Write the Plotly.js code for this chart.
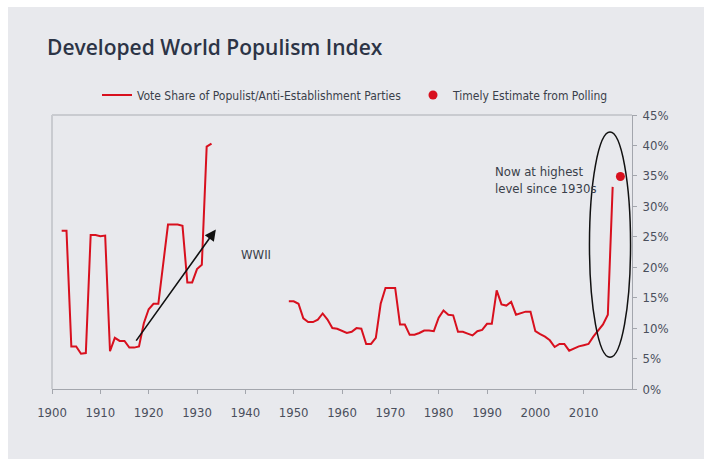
<!DOCTYPE html>
<html>
<head>
<meta charset="utf-8">
<script src="https://cdn.plot.ly/plotly-3.0.1.min.js"></script>
<style>
html,body{margin:0;padding:0;background:#ffffff;}
#chart{position:absolute;left:8px;top:7px;width:696px;height:452px;}
</style>
</head>
<body>
<div id="chart"></div>
<script>
// Vote share of populist / anti-establishment parties (%), pre-war segment
var yearsPreWar = [1902,1903,1904,1905,1906,1907,1908,1909,1910,1911,1912,1913,1914,1915,1916,1917,1918,1919,1920,1921,1922,1923,1924,1925,1926,1927,1928,1929,1930,1931,1932,1933];
var sharePreWar = [26.0,26.0,7.0,7.0,5.8,5.9,25.3,25.3,25.1,25.2,6.2,8.4,7.9,7.9,6.8,6.8,7.0,10.8,13.1,14.0,14.0,20.5,27.0,27.0,27.0,26.8,17.5,17.5,19.7,20.4,39.8,40.3];
// post-war segment
var yearsPostWar = [1949,1950,1951,1952,1953,1954,1955,1956,1957,1958,1959,1960,1961,1962,1963,1964,1965,1966,1967,1968,1969,1970,1971,1972,1973,1974,1975,1976,1977,1978,1979,1980,1981,1982,1983,1984,1985,1986,1987,1988,1989,1990,1991,1992,1993,1994,1995,1996,1997,1998,1999,2000,2001,2002,2003,2004,2005,2006,2007,2008,2009,2010,2011,2012,2013,2014,2015,2016];
var sharePostWar = [14.4,14.4,14.0,11.6,11.0,11.0,11.4,12.4,11.4,10.0,9.9,9.6,9.2,9.4,10.0,9.9,7.4,7.4,8.4,14.0,16.6,16.6,16.6,10.6,10.6,8.9,8.9,9.2,9.6,9.6,9.5,11.7,12.9,12.2,12.1,9.4,9.4,9.1,8.8,9.5,9.7,10.7,10.7,16.2,13.9,13.7,14.3,12.2,12.4,12.7,12.7,9.5,9.0,8.6,8.0,6.9,7.4,7.4,6.3,6.7,7.0,7.2,7.4,8.6,9.6,10.6,12.2,33.2];
// timely estimate from polling
var pollYear = [2017.6];
var pollShare = [34.9];
var xTickVals = [1900,1910,1920,1930,1940,1950,1960,1970,1980,1990,2000,2010];
var xTickText = ['1900','1910','1920','1930','1940','1950','1960','1970','1980','1990','2000','2010'];
var yTickVals = [0,5,10,15,20,25,30,35,40,45];
var yTickText = ['0%','5%','10%','15%','20%','25%','30%','35%','40%','45%'];
var arrowFrom = [1917.2, 7.7];
var arrowTo = [1933.9, 26.2];
var ellipseX = [2011.2, 2019.7];
var ellipseY = [5.2, 42.2];

var RED = '#d8101e';
var NARROW = '"Liberation Sans Narrow", "DejaVu Sans Condensed", "Roboto", sans-serif';

var traces = [
  {x: yearsPreWar, y: sharePreWar, type: 'scatter', mode: 'lines',
   name: 'Vote Share of Populist/Anti-Establishment Parties',
   line: {color: RED, width: 2}, legend: 'legend', legendgroup: 'v'},
  {x: yearsPostWar, y: sharePostWar, type: 'scatter', mode: 'lines',
   name: 'Vote Share of Populist/Anti-Establishment Parties', showlegend: false,
   line: {color: RED, width: 2}, legendgroup: 'v'},
  {x: pollYear, y: pollShare, type: 'scatter', mode: 'markers',
   name: 'Timely Estimate from Polling', legend: 'legend2',
   marker: {color: RED, size: 9}}
];

var W = 696, H = 452;
var layout = {
  width: W, height: H,
  paper_bgcolor: '#e8e9ed', plot_bgcolor: '#e8e9ed',
  margin: {l: 44, r: 72, t: 108, b: 70, pad: 0},
  font: {family: NARROW, color: '#4a4f5c', size: 13},
  title: {text: 'Developed World Populism Index', x: 39/W, xanchor: 'left', xref: 'container',
          y: 1 - 41/H, yanchor: 'middle', yref: 'container',
          font: {family: '"Open Sans", sans-serif', size: 21, weight: 600, color: '#2c3446'}},
  xaxis: {range: [1900, 2020], tickvals: xTickVals, ticktext: xTickText,
          showgrid: false, zeroline: false, showline: true, linecolor: '#a3a6ad', linewidth: 1,
          ticks: 'outside', ticklen: 4, tickcolor: '#a3a6ad', tickfont: {size: 13, color: '#4a4f5c'},
          ticklabelstandoff: 7},
  yaxis: {range: [0, 45], tickvals: yTickVals, ticktext: yTickText, side: 'right',
          showgrid: false, zeroline: false, showline: true, linecolor: '#a3a6ad', linewidth: 1,
          ticks: 'outside', ticklen: 4, tickcolor: '#a3a6ad', tickfont: {size: 13, color: '#4a4f5c'},
          ticklabelstandoff: 3},
  showlegend: true,
  legend: {orientation: 'h', xref: 'container', yref: 'container', x: 89/W, y: 1 - 88/H,
           xanchor: 'left', yanchor: 'middle', bgcolor: 'rgba(0,0,0,0)',
           font: {size: 12, color: '#3a3f4a'}},
  legend2: {orientation: 'h', xref: 'container', yref: 'container', x: 405/W, y: 1 - 88/H,
           xanchor: 'left', yanchor: 'middle', bgcolor: 'rgba(0,0,0,0)',
           font: {size: 12, color: '#3a3f4a'}},
  shapes: [
    {type: 'line', xref: 'paper', yref: 'paper', x0: 0, x1: 1, y0: 1, y1: 1,
     line: {color: '#c9cbd0', width: 2}},
    {type: 'line', xref: 'paper', yref: 'paper', x0: 0, x1: 0, y0: 0, y1: 1,
     line: {color: '#c9cbd0', width: 2}},
    {type: 'circle', xref: 'x', yref: 'y', x0: ellipseX[0], x1: ellipseX[1], y0: ellipseY[0], y1: ellipseY[1],
     line: {color: '#111111', width: 1.5}}
  ],
  annotations: [
    {x: arrowTo[0], y: arrowTo[1], ax: arrowFrom[0], ay: arrowFrom[1], axref: 'x', ayref: 'y',
     xref: 'x', yref: 'y', text: '', showarrow: true, arrowhead: 2, arrowsize: 1.4, arrowwidth: 1.6,
     arrowcolor: '#111111', standoff: 0, startstandoff: 0},
    {x: 1942.3, y: 22.1, xref: 'x', yref: 'y', text: 'WWII', showarrow: false,
     font: {size: 13, color: '#3a3f4a'}},
    {x: 1991.2, y: 34.3, xref: 'x', yref: 'y', text: 'Now at highest<br>level since 1930s', showarrow: false,
     xanchor: 'left', yanchor: 'middle', align: 'left', font: {size: 13, color: '#3a3f4a'}}
  ]
};

Plotly.newPlot('chart', traces, layout, {displayModeBar: false, staticPlot: true});
</script>
</body>
</html>
